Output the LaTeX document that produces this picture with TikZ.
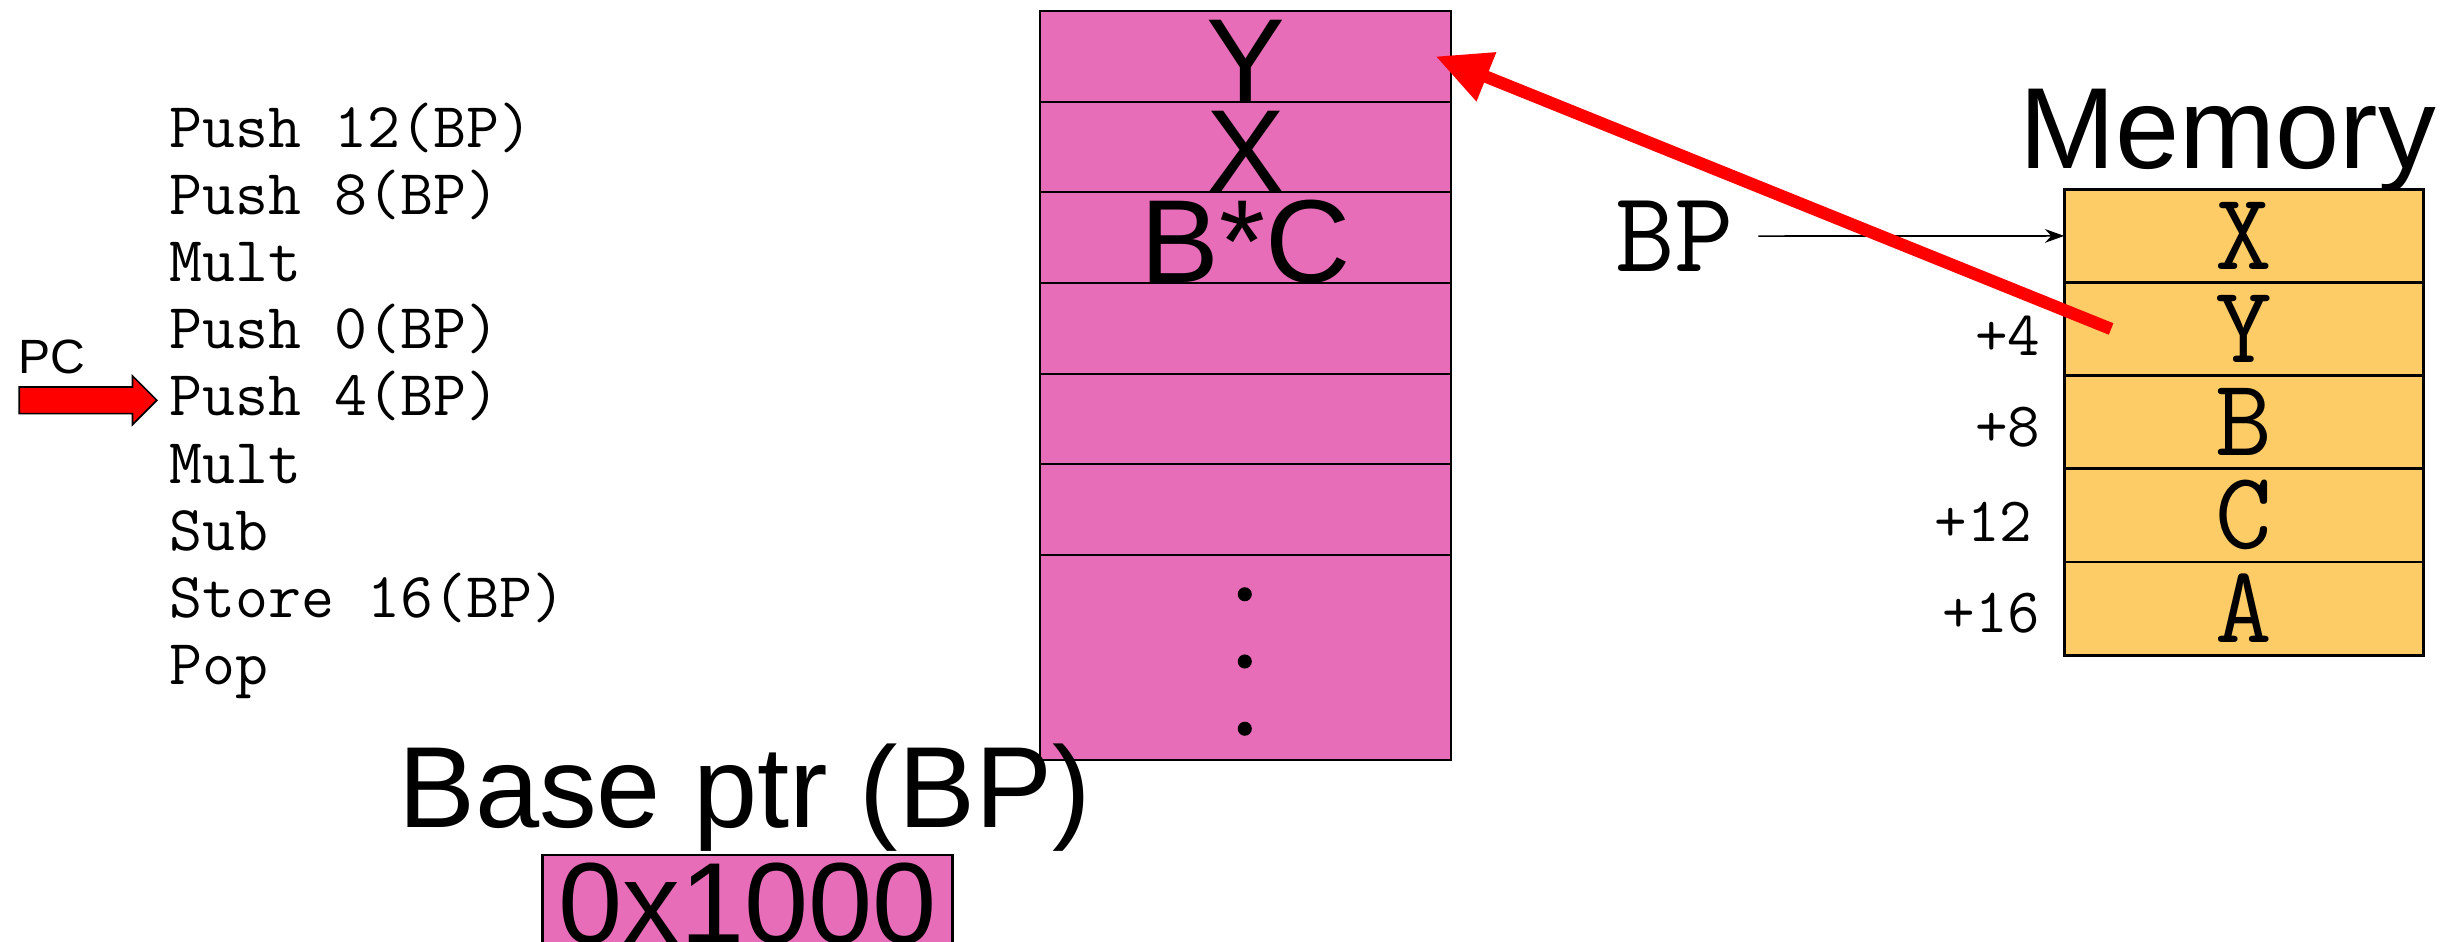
\documentclass[tikz,border=0pt]{standalone}
\usepackage{fontspec}
\setmainfont{Liberation Sans}
\usetikzlibrary{positioning,arrows.meta,shapes.arrows}
\definecolor{stackpink}{RGB}{231,109,185}
\definecolor{memgold}{RGB}{254,204,102}
\tikzset{
  cell/.style={draw, fill=stackpink, line width=0.8pt, minimum width=5.26cm,
    minimum height=1.16cm, inner sep=0pt, outer sep=0pt, text height=1.16cm,
    text depth=0pt, font=\fontsize{43}{43}\selectfont},
  memcell/.style={draw, fill=memgold, line width=1pt, minimum width=4.6cm,
    minimum height=1.192cm, inner sep=0pt, outer sep=0pt,
    font=\ttfamily\fontsize{40}{40}\selectfont},
  offset/.style={inner sep=0pt, font=\ttfamily\fontsize{23}{23}\selectfont},
  code/.style={anchor=base west, inner sep=0pt, font=\ttfamily\fontsize{23.3}{24}\selectfont},
  big/.style={font=\fontsize{42}{42}\selectfont},
}
\begin{document}
\begin{tikzpicture}[x=0.02cm, y=-0.02cm]
    \clip (0,0) rectangle (1568,602);
    % program
    \foreach \txt [count=\i] in {{Push 12(BP)},{Push 8(BP)},Mult,{Push 0(BP)},{Push 4(BP)},Mult,Sub,{Store 16(BP)},Pop}
        \node[code] (c\i) at (108,{51+43*\i}) {\txt};
    \node[single arrow, draw, fill=red, line width=0.6pt, minimum height=1.76cm,
        inner sep=0.16cm, single arrow head extend=0.14cm] (pcarr) at (52,256) {};
    \node[font=\fontsize{17.5}{17.5}\selectfont] (pc) at (33,228) {PC};
    % stack
    \node[cell, anchor=north west] (s1) at (665,7) {Y};
    \node[cell, below=0pt of s1] (s2) {X};
    \node[cell, below=0pt of s2] (s3) {B*C};
    \node[cell, below=0pt of s3] (s4) {};
    \node[cell, below=0pt of s4] (s5) {};
    \node[cell, below=0pt of s5] (s6) {};
    \node[cell, below=0pt of s6, minimum height=2.62cm] (s7) {};
    \foreach \y in {380,423,466}
        \fill (796,\y) circle[radius=0.09cm];
    % memory
    \node[big, anchor=base west] (memtitle) at (1285,108) {Memory};
    \node[memcell, anchor=north west] (mx) at (1320,121) {X};
    \node[memcell, below=0pt of mx] (my) {Y};
    \node[memcell, below=0pt of my] (mb) {B};
    \node[memcell, below=0pt of mb] (mc) {C};
    \node[memcell, below=0pt of mc] (ma) {A};
    \node[offset, left=0.3cm of my, yshift=-0.08cm] (o4) {+4};
    \node[offset, left=0.3cm of mb, yshift=-0.06cm] (o8) {+8};
    \node[offset, left=0.4cm of mc, yshift=-0.08cm] (o12) {+12};
    \node[offset, left=0.3cm of ma, yshift=-0.06cm] (o16) {+16};
    \node[font=\ttfamily\fontsize{42}{42}\selectfont, inner sep=0.3cm] (bp) at (1071,151) {BP};
    \draw[-{Stealth[length=7pt,width=5pt]}, line width=0.6pt] (bp) -- (mx);
    \draw[red, line width=4.5pt, -{Triangle[length=20pt,width=18pt]}]
        ([xshift=0.6cm]my.west) -- ([xshift=-0.2cm]s1.east);
    % base pointer
    \node[big, anchor=base] (bptitle) at (476,529) {Base ptr (BP)};
    \node[big, draw, fill=stackpink, line width=0.8pt, anchor=north,
        inner xsep=0.2cm, inner ysep=0.1cm] (bpval) at (478,546) {0x1000};
\end{tikzpicture}
\end{document}
